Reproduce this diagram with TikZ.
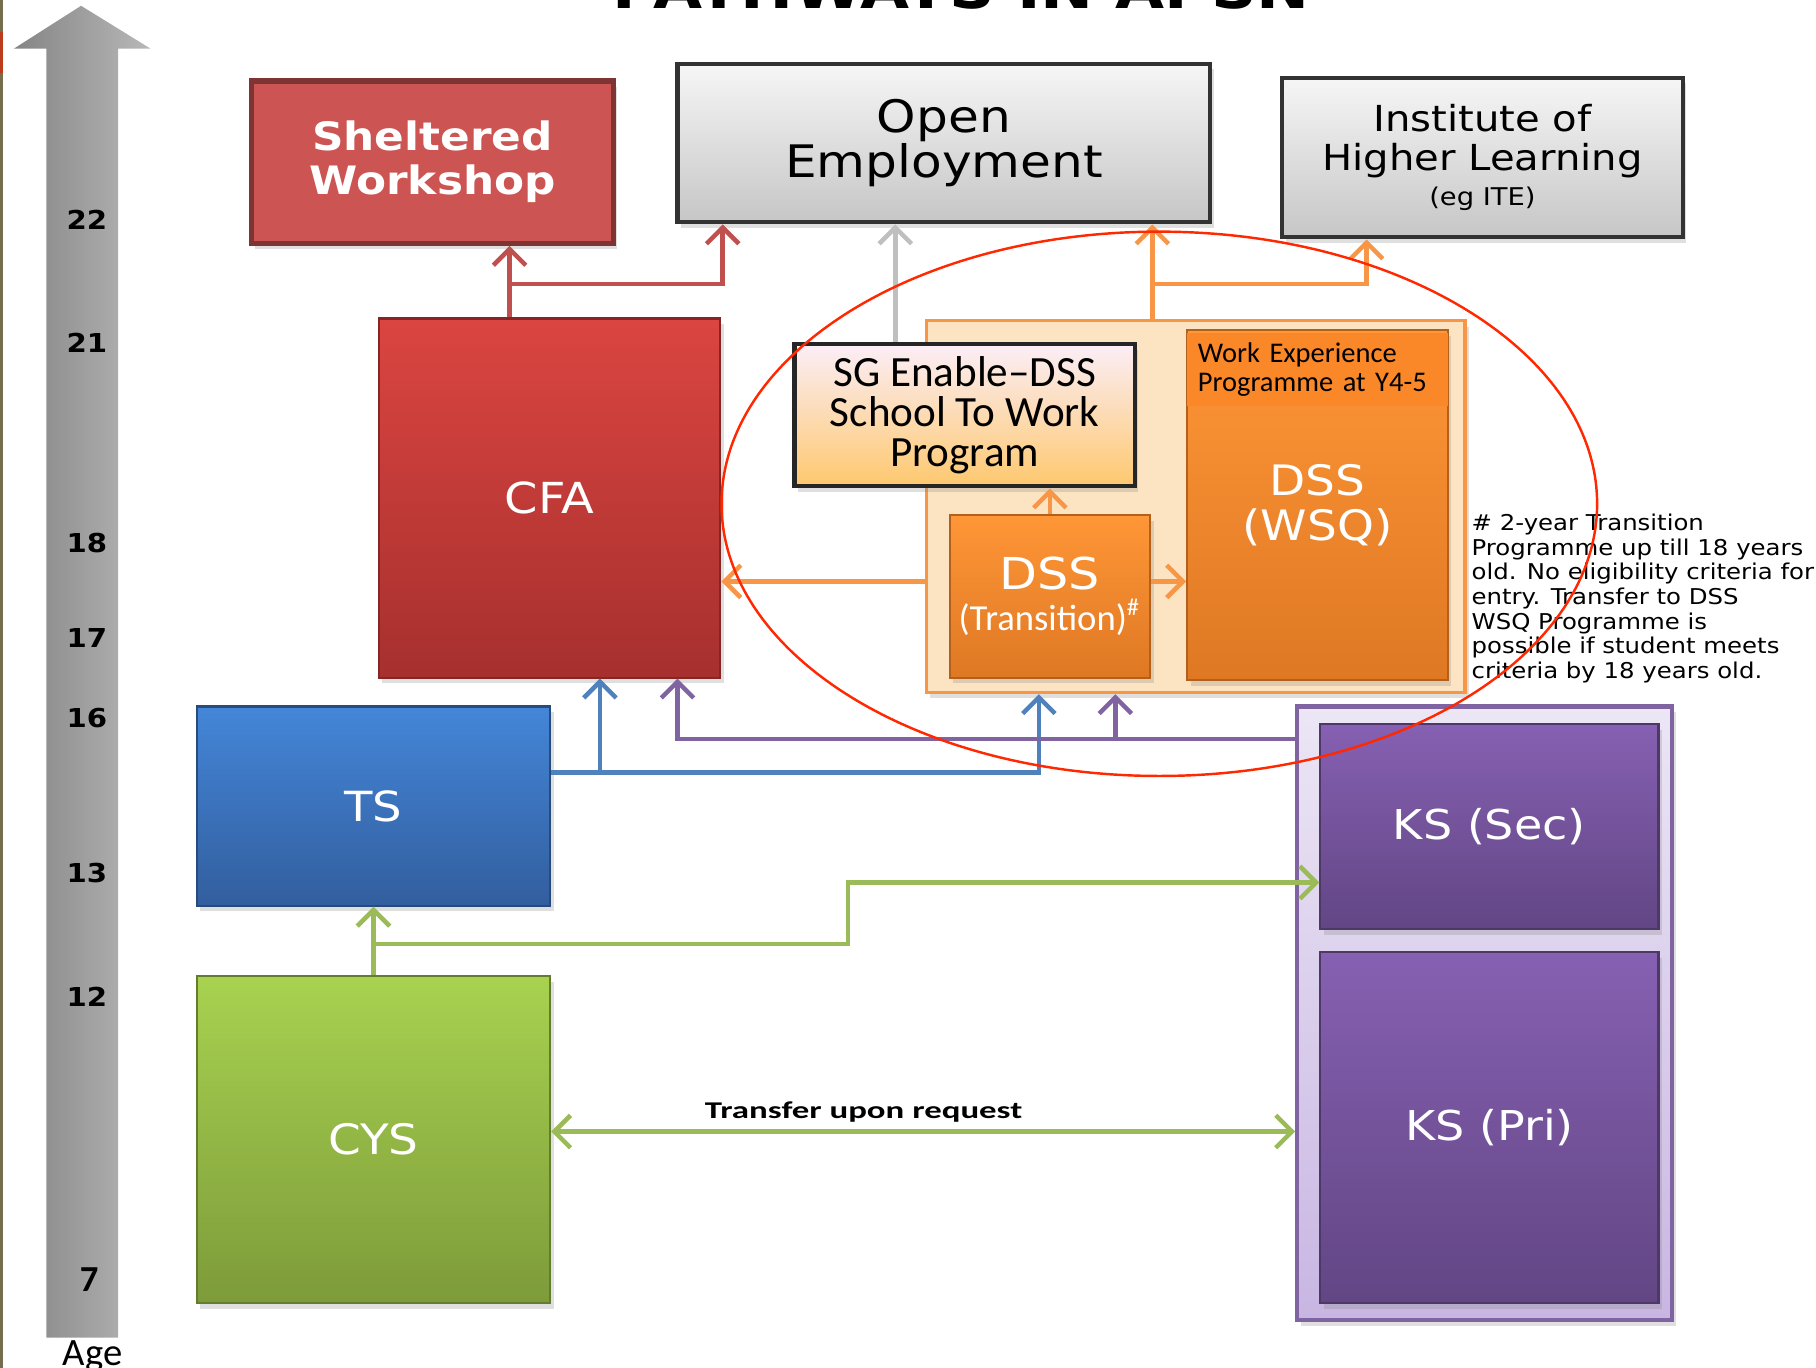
\documentclass[tikz,border=0pt]{standalone}
\usepackage{fontspec}
\setmainfont{DejaVu Sans}[FakeStretch=1.12]
\newfontfamily\calfont{Carlito}
\newfontfamily\calwide{Carlito}[FakeStretch=1.45]
\usetikzlibrary{arrows.meta,shadows}

\definecolor{swred}{RGB}{204,85,83}
\definecolor{swedge}{RGB}{125,52,50}
\definecolor{cfatop}{RGB}{219,69,65}
\definecolor{cfabot}{RGB}{166,48,46}
\definecolor{greytop}{RGB}{246,246,246}
\definecolor{greybot}{RGB}{198,198,198}
\definecolor{sgtop}{RGB}{252,238,248}
\definecolor{sgbot}{RGB}{253,200,110}
\definecolor{contfill}{RGB}{252,228,194}
\definecolor{orangeline}{RGB}{247,150,70}
\definecolor{dsstop}{RGB}{255,150,55}
\definecolor{dssbot}{RGB}{222,120,35}
\definecolor{weband}{RGB}{250,135,40}
\definecolor{tstop}{RGB}{68,134,216}
\definecolor{tsbot}{RGB}{50,94,158}
\definecolor{cystop}{RGB}{168,210,80}
\definecolor{cysbot}{RGB}{125,155,58}
\definecolor{kstop}{RGB}{134,96,178}
\definecolor{ksbot}{RGB}{98,70,132}
\definecolor{kscontop}{RGB}{236,230,245}
\definecolor{kscontbot}{RGB}{200,182,226}
\definecolor{redline}{RGB}{192,80,77}
\definecolor{greyline}{RGB}{191,191,191}
\definecolor{blueline}{RGB}{79,129,189}
\definecolor{purpleline}{RGB}{128,100,162}
\definecolor{greenline}{RGB}{155,187,89}
\definecolor{ringred}{RGB}{255,40,0}
\definecolor{edgeolive}{RGB}{117,110,78}
\definecolor{edgered}{RGB}{190,60,30}

\begin{document}
\begin{tikzpicture}[x=1mm, y=-1mm, >={Straight Barb[length=1.4mm, width=2.8mm]},
	box/.style={rectangle, inner sep=1pt, align=center, drop shadow={opacity=0.25, shadow xshift=0.3mm, shadow yshift=-0.5mm}},
	greybox/.style={box, top color=greytop, bottom color=greybot, draw=black!80, line width=1pt, text=black},
	colbox/.style={box, draw=#1bot!80!black, line width=0.5pt, top color=#1top, bottom color=#1bot, text=white},
	link/.style={line width=1.1pt, ->}]
	\useasboundingbox (0,0) rectangle (156.8,118.1);
	\clip (0,0) rectangle (156.8,118.1);
	
	% slide edge and age scale
	\fill[edgeolive] (0,0) rectangle (0.3,118.1);
	\fill[edgered] (0,2.8) rectangle (0.3,6.3);
	\shade[left color=black!48, right color=black!28] (4.0,115.5) -- (4.0,4.2) -- (1.2,4.2) -- (7.0,0.5) -- (13.0,4.2) -- (10.2,4.2) -- (10.2,115.5) -- cycle;
	\foreach \age/\ypos in {22/19.0,21/29.6,18/46.9,17/55.1,16/62.0,13/75.4,12/86.1}
		\node[font=\bfseries\fontsize{6.4}{7}\selectfont] (age\age) at (7.5,\ypos) {\age};
	\node[font=\calfont\bfseries\fontsize{9}{9}\selectfont] (age7) at (7.7,110.5) {7};
	\node[anchor=base, font=\calfont\fontsize{9.5}{10}\selectfont] (age) at (8.0,117.9) {Age};
	\node[anchor=base, font=\bfseries\fontsize{13.9}{14}\selectfont] (title) at (83.0,0.7) {PATHWAYS IN APSN};
	
	% containers
	\node[box, fill=contfill, draw=orangeline, line width=0.8pt, minimum width=46.5mm, minimum height=32.1mm, drop shadow={opacity=0}] (dsscont) at (103.25,43.75) {};
	\node[box, top color=kscontop, bottom color=kscontbot, draw=purpleline, line width=1pt, minimum width=32.4mm, minimum height=53mm] (kscont) at (128.2,87.5) {};
	
	% boxes
	\node[box, fill=swred, draw=swedge, line width=1.3pt, text=white, minimum width=31.3mm, minimum height=14mm, font=\bfseries\fontsize{9.6}{10.8}\selectfont] (sw) at (37.35,14.0) {Sheltered\\Workshop};
	\node[greybox, minimum width=46mm, minimum height=13.7mm, font=\fontsize{11}{11.2}\selectfont] (oe) at (81.5,12.35) {Open\\Employment};
	\node[greybox, minimum width=34.6mm, minimum height=13.8mm, font=\fontsize{8.8}{9.6}\selectfont] (ihl) at (128.0,13.6) {Institute of\\Higher Learning\\[-1pt]{\fontsize{6}{6}\selectfont (eg ITE)}};
	\node[colbox=cfa, minimum width=29.5mm, minimum height=31mm, font=\fontsize{10.5}{11}\selectfont] (cfa) at (47.45,43.0) {CFA};
	\node[box, top color=sgtop, bottom color=sgbot, draw=black!85, line width=1pt, minimum width=29.4mm, minimum height=12.3mm, font=\calfont\fontsize{10.6}{9.8}\selectfont] (sg) at (83.3,35.85) {SG Enable–DSS\\School To Work\\Program};
	\node[colbox=dss, minimum width=22.5mm, minimum height=30.2mm, font=\fontsize{10.3}{11}\selectfont] (wsq) at (113.75,43.6) {DSS\\(WSQ)};
	\node[anchor=north west, fill=weband, minimum width=22.5mm, minimum height=6.3mm, text width=20.6mm, align=left, inner sep=0.7mm, font=\calfont\fontsize{7}{7.2}\selectfont] (wep) at ([yshift=-0.3mm]wsq.north west) {Work Experience\\Programme at Y4-5};
	\node[colbox=dss, minimum width=17.3mm, minimum height=14mm, font=\fontsize{10.8}{10}\selectfont] (tr) at (90.65,51.5) {DSS\\{\calfont\fontsize{9}{9}\selectfont (Transition)\textsuperscript{\#}}};
	\node[colbox=ts, minimum width=30.5mm, minimum height=17.2mm, font=\fontsize{10.2}{11}\selectfont] (ts) at (32.25,69.6) {TS};
	\node[colbox=cys, minimum width=30.5mm, minimum height=28.2mm, font=\fontsize{10.3}{11}\selectfont] (cys) at (32.25,98.4) {CYS};
	\node[colbox=ks, minimum width=29.2mm, minimum height=17.7mm, font=\fontsize{10.1}{11}\selectfont] (kssec) at (128.6,71.35) {KS (Sec)};
	\node[colbox=ks, minimum width=29.2mm, minimum height=30.3mm, font=\fontsize{10.1}{11}\selectfont] (kspri) at (128.6,97.35) {KS (Pri)};
	
	\node[anchor=north west, align=left, inner sep=0pt, font=\fontsize{5.35}{6.06}\selectfont] (note) at (127.0,44.3) {\# 2-year Transition\\Programme up till 18 years\\old. No eligibility criteria for\\entry. Transfer to DSS\\WSQ Programme is\\possible if student meets\\criteria by 18 years old.};
	
	% pathways
	\draw[link, redline] (44,0 |- cfa.north) -- (44,0 |- sw.south);
	\draw[link, redline] (44,24.5) -| (oe.south -| 62.4,0);
	\draw[link, greyline] (sg.north -| 77.3,0) -- (oe.south -| 77.3,0);
	\draw[link, orangeline] (dsscont.north -| 99.5,0) -- (oe.south -| 99.5,0);
	\draw[link, orangeline] (99.5,24.5) -| (ihl.south -| 118,0);
	\draw[link, orangeline] (tr.north) -- (sg.south -| tr.north);
	\draw[link, orangeline] (dsscont.west |- 0,50.2) -- (cfa.east |- 0,50.2);
	\draw[link, orangeline] (tr.east |- 0,50.2) -- (wsq.west |- 0,50.2);
	\draw[link, blueline] (ts.east |- 0,66.7) -| (dsscont.south -| 89.7,0);
	\draw[link, blueline] (51.8,66.7) -- (cfa.south -| 51.8,0);
	\draw[link, purpleline] (kscont.west |- 0,63.8) -| (cfa.south -| 58.5,0);
	\draw[link, purpleline] (96.3,63.8) -- (dsscont.south -| 96.3,0);
	\draw[link, greenline] (cys.north) -- (ts.south);
	\draw[link, greenline] (cys.north |- 0,81.5) -| (73.2,76.2) -- (kssec.west |- 0,76.2);
	\draw[link, greenline, <->] (cys.east |- 0,97.7) -- (kscont.west |- 0,97.7) node[pos=0.42, above=-0.6mm, font=\calwide\bfseries\fontsize{5.9}{6}\selectfont, text=black] {Transfer upon request};
	
	\draw[ringred, line width=0.6pt] (100.1,43.5) ellipse [x radius=37.8, y radius=23.5];
\end{tikzpicture}
\end{document}
